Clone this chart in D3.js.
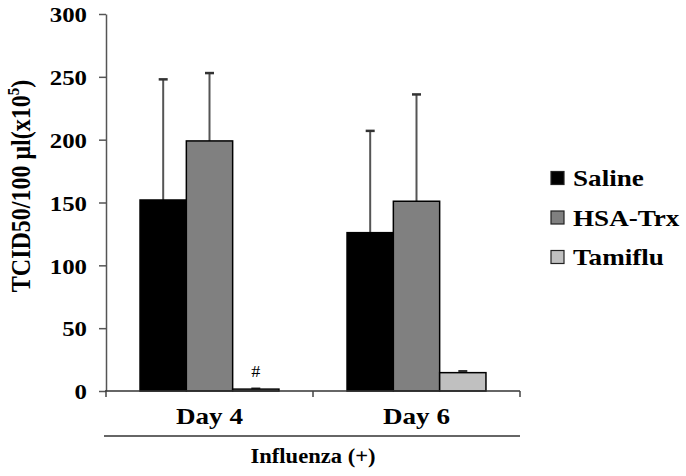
<!DOCTYPE html>
<html>
<head>
<meta charset="utf-8">
<script src="https://cdn.jsdelivr.net/npm/d3@7"></script>
<style>
  body { margin: 0; background: #fff; }
</style>
</head>
<body>
<svg width="686" height="476"></svg>
<script>
// data
const days = ["Day 4", "Day 6"];
const groups = ["Saline", "HSA-Trx", "Tamiflu"];
const colors = ["#000000", "#808080", "#c0c0c0"];
const saline = [152, 126];
const salineErr = [96, 81];
const hsaTrx = [199, 151];
const hsaTrxErr = [54, 85];
const tamiflu = [1.5, 14.6];
const tamifluErr = [0.3, 1.1];
const yTicks = [0, 50, 100, 150, 200, 250, 300];

const FONT = '"Liberation Serif", "Times New Roman", serif';
const svg = d3.select("svg");
const S = 1.13; // the original figure's text is a bit wider than it is tall

// axes box
const plotLeft = 106, plotRight = 520, plotTop = 14, plotBottom = 391;

const x = d3.scaleBand().domain(days).range([plotLeft, plotRight]).paddingInner(0).paddingOuter(0);
const xInner = d3.scaleBand().domain(groups).range([0, x.bandwidth()]).paddingOuter(0.735).paddingInner(0);
const y = d3.scaleLinear().domain([0, 300]).range([plotBottom, plotTop]);

// stretched text helper
function label(parent, tx, ty, str, size, anchor, weight) {
  return parent.append("text")
    .attr("transform", `translate(${tx},${ty}) scale(${S},1)`)
    .attr("text-anchor", anchor || "start")
    .style("font-family", FONT)
    .attr("font-size", size)
    .attr("font-weight", weight || "bold")
    .text(str);
}

const rows = [];
days.forEach((d, i) => {
  rows.push({ day: d, g: groups[0], v: saline[i], e: salineErr[i], c: colors[0] });
  rows.push({ day: d, g: groups[1], v: hsaTrx[i], e: hsaTrxErr[i], c: colors[1] });
  rows.push({ day: d, g: groups[2], v: tamiflu[i], e: tamifluErr[i], c: colors[2] });
});

// error bars (upper only) drawn first so the bar covers the base
const eb = svg.append("g");
rows.forEach(r => {
  const cx = x(r.day) + xInner(r.g) + xInner.bandwidth() / 2;
  eb.append("line")
    .attr("x1", cx).attr("x2", cx)
    .attr("y1", y(r.v)).attr("y2", y(r.v + r.e))
    .attr("stroke", "#555").attr("stroke-width", 2);
  eb.append("line")
    .attr("x1", cx - 4.5).attr("x2", cx + 4.5)
    .attr("y1", y(r.v + r.e)).attr("y2", y(r.v + r.e))
    .attr("stroke", "#333").attr("stroke-width", 2.5);
});

svg.append("g")
  .selectAll("rect")
  .data(rows)
  .join("rect")
  .attr("x", d => x(d.day) + xInner(d.g))
  .attr("y", d => y(d.v))
  .attr("width", xInner.bandwidth())
  .attr("height", d => y(0) - y(d.v))
  .attr("fill", d => d.c)
  .attr("stroke", "#000")
  .attr("stroke-width", 1.5);

// y axis
const yAxis = svg.append("g")
  .attr("transform", `translate(${plotLeft},0)`)
  .call(d3.axisLeft(y).tickValues(yTicks).tickSize(7).tickPadding(12).tickSizeOuter(0));
yAxis.select(".domain").attr("stroke", "#555").attr("stroke-width", 1.5);
yAxis.selectAll(".tick line").attr("stroke", "#555").attr("stroke-width", 1.5);
yAxis.selectAll("text")
  .style("font-family", FONT)
  .attr("font-size", 22).attr("font-weight", "bold").attr("fill", "#000")
  .attr("x", -19 / S)
  .attr("transform", `scale(${S},1)`)
  .attr("dy", "0.35em");

// x axis
const xAxisG = svg.append("g").attr("transform", `translate(0,${plotBottom})`);
xAxisG.append("line")
  .attr("x1", plotLeft - 1).attr("x2", plotRight)
  .attr("stroke", "#333").attr("stroke-width", 1.5);
[plotLeft, x(days[1]), plotRight].forEach(t => {
  xAxisG.append("line")
    .attr("x1", t).attr("x2", t).attr("y1", 0).attr("y2", 6)
    .attr("stroke", "#444").attr("stroke-width", 1.5);
});
days.forEach(d => {
  label(xAxisG, x(d) + x.bandwidth() / 2, 33, d, 24, "middle");
});

// group line and label
svg.append("line")
  .attr("x1", 104).attr("x2", plotRight)
  .attr("y1", 436).attr("y2", 436)
  .attr("stroke", "#333").attr("stroke-width", 1.5);
label(svg, (plotLeft + plotRight) / 2, 463, "Influenza (+)", 20, "middle");

// significance mark
label(svg, x(days[0]) + xInner(groups[2]) + xInner.bandwidth() / 2, 377, "#", 16, "middle", "normal");

// y label
const yl = svg.append("text")
  .attr("transform", `translate(30,186) scale(${S},1) rotate(-90)`)
  .attr("text-anchor", "middle")
  .style("font-family", FONT)
  .attr("font-size", 24).attr("font-weight", "bold");
yl.append("tspan").text("TCID50/100 \u03bcl(x10");
yl.append("tspan").attr("font-size", 15).attr("dy", -10).text("5");
yl.append("tspan").attr("dy", 10).text(")");

// legend
const legend = svg.append("g");
groups.forEach((g, i) => {
  const ly = 178 + i * 39.5;
  legend.append("rect")
    .attr("x", 551).attr("y", ly - 6.5)
    .attr("width", 13).attr("height", 13)
    .attr("fill", colors[i]).attr("stroke", "#222").attr("stroke-width", 1.2);
  label(legend, 573, ly + 8, g, 24, "start");
});
</script>
</body>
</html>
